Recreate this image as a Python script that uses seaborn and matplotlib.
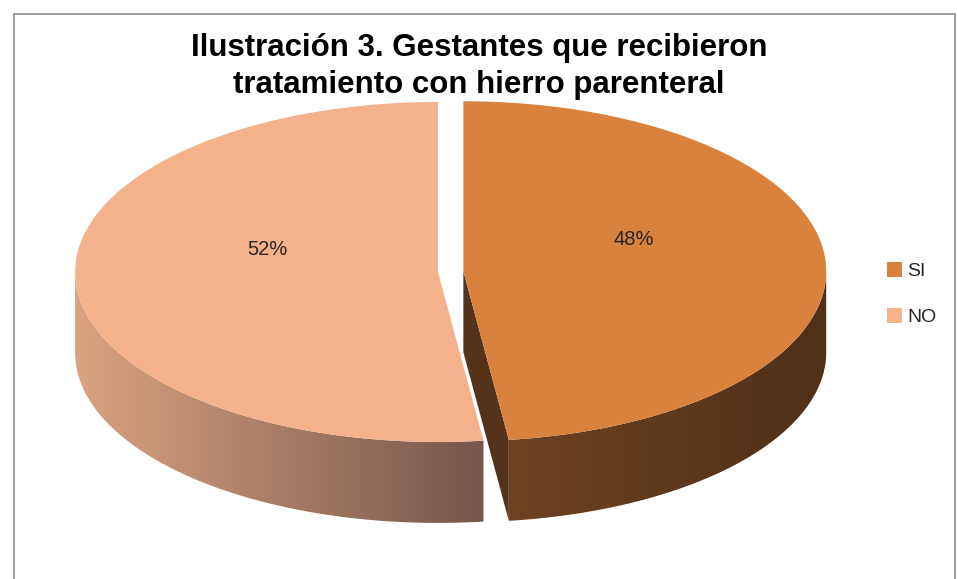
import numpy as np
import matplotlib
matplotlib.use('Agg')
import matplotlib.pyplot as plt
import seaborn as sns
from matplotlib.patches import Polygon, Rectangle
from matplotlib.colors import LinearSegmentedColormap

# Datos de la ilustración 3
categorias = ['SI', 'NO']
porcentajes = [48, 52]

# Colores: cara superior, lateral (gradiente izq -> der) y cara de corte
colores_top = ['#D8823E', '#F4B28C']
colores_lado = [('#6E4221', '#4F3018'), ('#DAA381', '#76574A')]
colores_corte = ['#55331A', '#8A6450']

sns.set_theme(style='white')
plt.rcParams['font.family'] = ['Liberation Sans', 'DejaVu Sans']

fig = plt.figure(figsize=(9.58, 5.79), dpi=100)
ax = fig.add_axes([0, 0, 1, 1])

prof = 0.476  # grosor del "pastel 3D"

wedges, _, autotexts = ax.pie(
    porcentajes, colors=colores_top, startangle=90, counterclock=False,
    explode=[0.07, 0], autopct='%1.0f%%', pctdistance=0.47,
    wedgeprops=dict(linewidth=0, zorder=3), textprops=dict(zorder=4))


def tramos_frontales(t1, t2):
    res = []
    for k in range(-2, 2):
        a, b = 180 + 360 * k, 360 + 360 * k
        lo, hi = max(t1, a), min(t2, b)
        if hi > lo:
            res.append((lo, hi))
    return res


for w, (c_izq, c_der), c_corte in zip(wedges, colores_lado, colores_corte):
    cx, cy = w.center
    r = w.r
    t1, t2 = w.theta1, w.theta2
    # caras de corte visibles
    for t, signo in ((t1, 1), (t2, -1)):
        if signo * np.cos(np.radians(t)) > 1e-6:
            ex, ey = cx + r * np.cos(np.radians(t)), cy + r * np.sin(np.radians(t))
            quad = [(cx, cy), (ex, ey), (ex, ey - prof), (cx, cy - prof)]
            ax.add_patch(Polygon(quad, closed=True, facecolor=c_corte,
                                 edgecolor='none', zorder=1))
    # lateral frontal con gradiente
    cmap = LinearSegmentedColormap.from_list('lado', [c_izq, c_der])
    for lo, hi in tramos_frontales(t1, t2):
        th = np.radians(np.linspace(lo, hi, 200))
        xs = cx + r * np.cos(th)
        ys = cy + r * np.sin(th)
        pts = np.vstack([np.column_stack([xs, ys]),
                         np.column_stack([xs[::-1], ys[::-1] - prof])])
        poly = Polygon(pts, closed=True, facecolor='none', edgecolor='none', zorder=2)
        ax.add_patch(poly)
        im = ax.imshow(np.linspace(0, 1, 256)[None, :], cmap=cmap, aspect='auto',
                       extent=[xs.min(), xs.max(), ys.min() - prof, ys.max()],
                       zorder=2, interpolation='bilinear')
        im.set_clip_path(poly)

for t in autotexts:
    x, y = t.get_position()
    t.set_position((x, y + 0.16))
    t.set_fontsize(14.5)
    t.set_color('#262626')

ax.set_aspect('auto')
ax.set_xlim(-1.207, 1.433)
ax.set_ylim(-1.806, 1.6)
ax.axis('off')

fig.text(0.5, 1 - 66.5 / 579,
         'Ilustración 3. Gestantes que recibieron\ntratamiento con hierro parenteral',
         ha='center', va='center', fontsize=22.5, fontweight='bold',
         linespacing=1.27, color='black')

fig.legend(wedges, categorias, loc='upper left',
           bbox_to_anchor=(877 / 958, 1 - 252 / 579), frameon=False, fontsize=14,
           handlelength=0.8, handleheight=0.8, handletextpad=0.25,
           labelspacing=1.45, borderpad=0)

fig.patches.append(Rectangle((14 / 958, -0.05), 941 / 958, 1.05 - 14 / 579,
                             transform=fig.transFigure, fill=False,
                             edgecolor='#8C8C8C', linewidth=1.2))

fig.savefig('out.png', dpi=100)
